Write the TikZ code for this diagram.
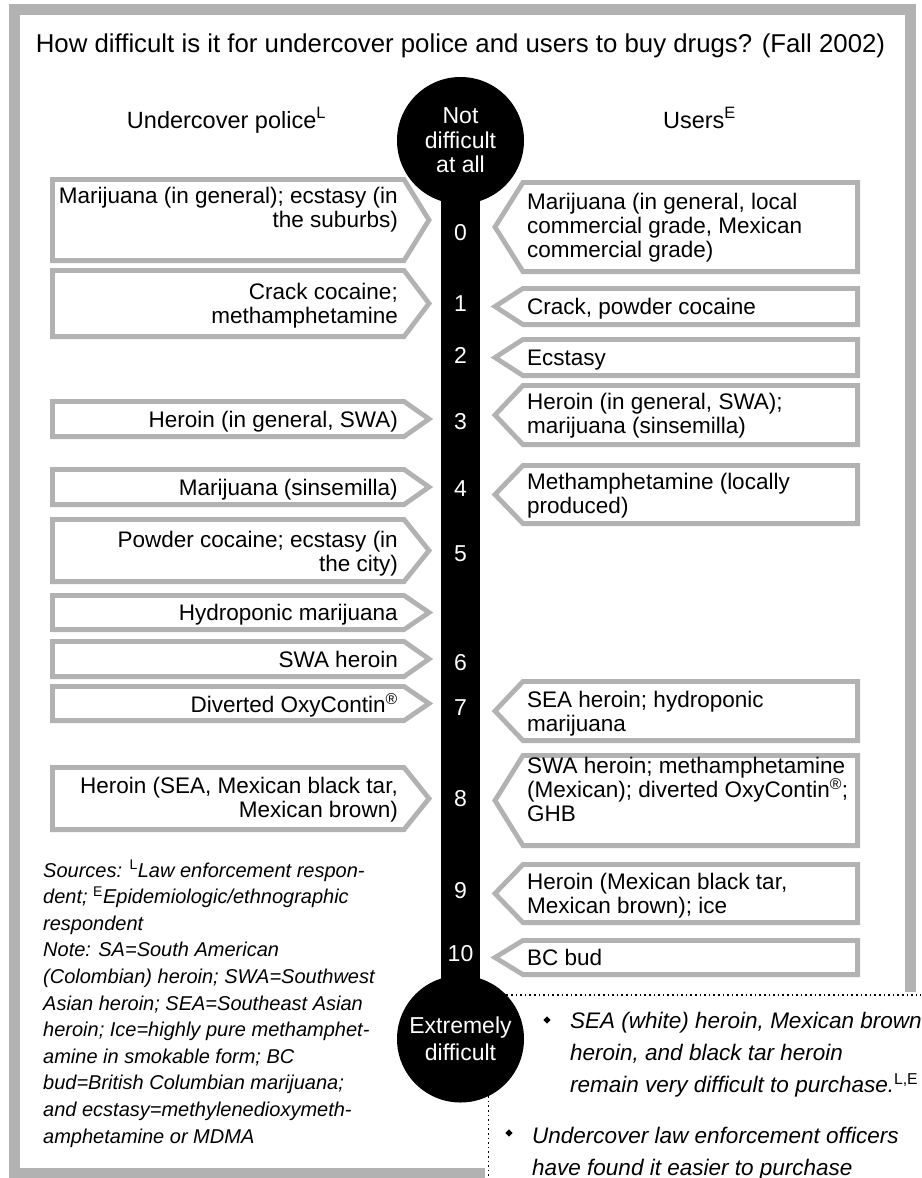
\documentclass[tikz,border=0pt]{standalone}
\usepackage{fontspec}
\setmainfont{Liberation Sans}
\usetikzlibrary{shapes.geometric}

\begin{document}
\begin{tikzpicture}[x=1pt,y=-1pt,
  frame/.style={draw=black!30, line width=11pt, line join=miter},
  drugbox/.style={draw=black!30, line width=4.8pt, line join=miter, fill=white},
  boxtext/.style={font=\fontsize{22.5}{24}\selectfont, inner sep=0pt},
  headtext/.style={font=\fontsize{23.5}{24}\selectfont, inner sep=0pt, anchor=base},
  capdot/.style={circle, fill=black, text=white, minimum size=127pt, inner sep=0pt, align=center},
  notetext/.style={font=\fontsize{20}{26.6}\selectfont\itshape, inner sep=0pt, align=left, anchor=base west},
  bullettext/.style={font=\fontsize{22.5}{32}\selectfont\itshape, inner sep=0pt, align=left, anchor=base west},
  bulletmark/.style={diamond, fill=black, inner sep=0pt, minimum size=7.5pt},
  dots/.style={line width=1.6pt, dash pattern=on 1.6pt off 3pt}]
\clip (0,0) rectangle (921,1178);
\fill[white] (0,0) rectangle (921,1178);
\draw[frame] (485,1173.5) -- (14.5,1173.5) -- (14.5,9.5) -- (910,9.5) -- (910,992);
\node[font=\fontsize{25.8}{28}\selectfont, inner sep=0pt, anchor=base] (title) at (460.5,52) {How difficult is it for undercover police and users to buy drugs? (Fall 2002)};
\node[headtext] (police) at (226.5,128) {Undercover police\textsuperscript{L}};
\node[headtext] (users) at (699.5,128) {Users\textsuperscript{E}};
\coordinate (topcap) at (460.5,140.5);
\coordinate (botcap) at (460.5,1039);
\fill ([xshift=-19.25pt]topcap) rectangle ([xshift=19.25pt]botcap);
\node[capdot, font=\fontsize{23}{24.5}\selectfont] (easy) at (topcap) {Not\\difficult\\at all};
\node[capdot, font=\fontsize{23}{27}\selectfont] (hard) at (botcap) {Extremely\\difficult};
\foreach \n/\y in {0/240,1/311,2/363,3/429,4/496,5/561,6/670,7/715,8/806,9/898,10/961}
  \node[boxtext, font=\fontsize{23}{24}\selectfont, text=white, anchor=base] (n\n) at (460.5,\y) {\n};
\foreach \t/\b/\y/\txt [count=\i] in {177/263/227/{Marijuana (in general); ecstasy (in\\the suburbs)},
    268/339/323/{Crack cocaine;\\methamphetamine}, 399/439/427/{Heroin (in general, SWA)},
    467/507/495/{Marijuana (sinsemilla)}, 517/584/571/{Powder cocaine; ecstasy (in\\the city)},
    593/632/620/{Hydroponic marijuana}, 639/679/667/{SWA heroin},
    684/723/712/{Diverted OxyContin\textsuperscript{®}},
    765/832/817/{Heroin (SEA, Mexican black tar,\\Mexican brown)}}{
  \draw[drugbox] (52.4,{\t+2.4}) -- (404,{\t+2.4}) -- (429,{(\t+\b)/2}) -- (404,{\b-2.4}) -- (52.4,{\b-2.4}) -- cycle;
  \node[boxtext, align=right, anchor=base east] (pol\i) at (398,\y) {\txt};
}
\foreach \t/\b/\y/\txt [count=\i] in {180/274/257/{Marijuana (in general, local\\commercial grade, Mexican\\commercial grade)},
    286/327/314/{Crack, powder cocaine}, 337/378/365/{Ecstasy},
    383/447/433/{Heroin (in general, SWA);\\marijuana (sinsemilla)},
    463/526/513/{Methamphetamine (locally\\produced)}, 679/743/731/{SEA heroin; hydroponic\\marijuana},
    753/848/821/{SWA heroin; methamphetamine\\(Mexican); diverted OxyContin\textsuperscript{®};\\GHB},
    862/925/913/{Heroin (Mexican black tar,\\Mexican brown); ice}, 938/977/965/{BC bud}}{
  \draw[drugbox] (857.6,{\t+2.4}) -- (523,{\t+2.4}) -- (495,{(\t+\b)/2}) -- (523,{\b-2.4}) -- (857.6,{\b-2.4}) -- cycle;
  \node[boxtext, align=left, anchor=base west] (usr\i) at (527,\y) {\txt};
}
\node[notetext] (notes) at (43,1143) {Sources: \textsuperscript{\upshape L}Law enforcement respon-\\dent; \textsuperscript{\upshape E}Epidemiologic/ethnographic\\respondent\\Note: SA=South American\\(Colombian) heroin; SWA=Southwest\\Asian heroin; SEA=Southeast Asian\\heroin; Ice=highly pure methamphet-\\amine in smokable form; BC\\bud=British Columbian marijuana;\\and ecstasy=methylenedioxymeth-\\amphetamine or MDMA};
\draw[dots] (hard.44) -- (hard.44 -| 921,0);
\draw[dots] (hard.-64) -- (hard.-64 |- 0,1178);
\node[bulletmark] (mark1) at (547,1020) {};
\node[bullettext] (point1) at (570,1092) {SEA (white) heroin, Mexican brown\\heroin, and black tar heroin\\remain very difficult to purchase.\textsuperscript{\upshape L,E}};
\node[bulletmark] (mark2) at (509,1133) {};
\node[bullettext] (point2) at (532,1175) {Undercover law enforcement officers\\have found it easier to purchase};
\end{tikzpicture}
\end{document}
